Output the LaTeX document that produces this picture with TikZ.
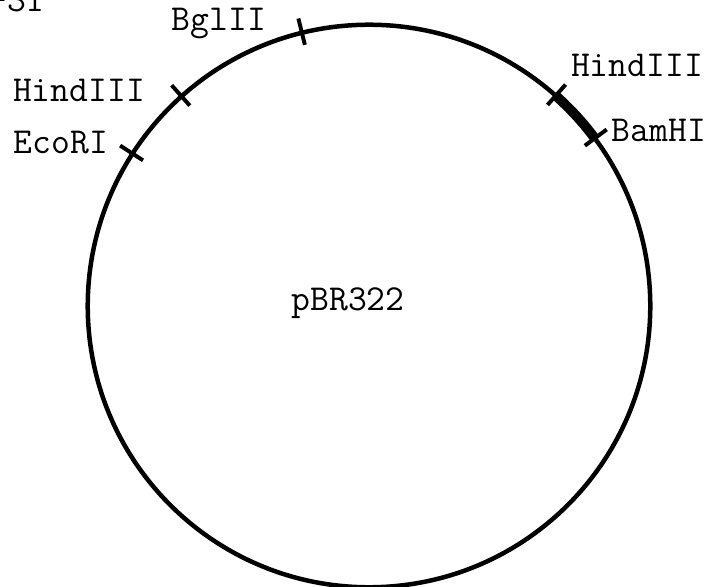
\documentclass[tikz,border=0pt]{standalone}
\usepackage{fontspec}
\usepackage{tikz}
\usetikzlibrary{positioning, calc}
\newcommand{\Rad}{7.03cm}

\begin{document}
\begin{tikzpicture}[x=0.025cm, y=0.025cm,
    site/.style={font=\fontsize{26}{30}\selectfont\ttfamily, text=black, inner sep=0pt},
    ring/.style={draw=black, line width=3.2pt},
    cut/.style={draw=black, line width=2.8pt},
    insert/.style={draw=black, line width=7pt}
  ]
  \useasboundingbox (0,0) rectangle (720,586);
  % ---------------- plasmid ----------------
  \coordinate (c) at (369,280);
  \draw[ring] (c) circle[radius=\Rad];
  \node[site] (plasmid) at (348,283) {pBR322};

  % ---------------- inserted segment ----------------
  \draw[insert] ($(c)+(48.4:\Rad)$) arc[start angle=48.4, end angle=36.6, radius=\Rad];

  % ---------------- cut sites ----------------
  \draw[cut] ($(c)+(103.8:6.72cm)$) -- ($(c)+(103.8:7.4cm)$);
  \draw[cut] ($(c)+(131.8:6.72cm)$) -- ($(c)+(131.8:7.4cm)$);
  \draw[cut] ($(c)+(147.2:6.72cm)$) -- ($(c)+(147.2:7.4cm)$);
  \draw[cut] ($(c)+(48.4:6.72cm)$) -- ($(c)+(48.4:7.4cm)$);
  \draw[cut] ($(c)+(36.6:6.72cm)$) -- ($(c)+(36.6:7.4cm)$);

  % ---------------- labels ----------------
  \node[site] (bgl) at (219,562) {BglII};
  \node[site] (hindL) at (79,496) {HindIII};
  \node[site] (eco) at (61,443) {EcoRI};
  \node[site] (hindR) at (637,521) {HindIII};
  \node[site] (bam) at (659,456) {BamHI};
  \node[site, anchor=base west] (fig) at (-12,574) {-31};
\end{tikzpicture}
\end{document}
